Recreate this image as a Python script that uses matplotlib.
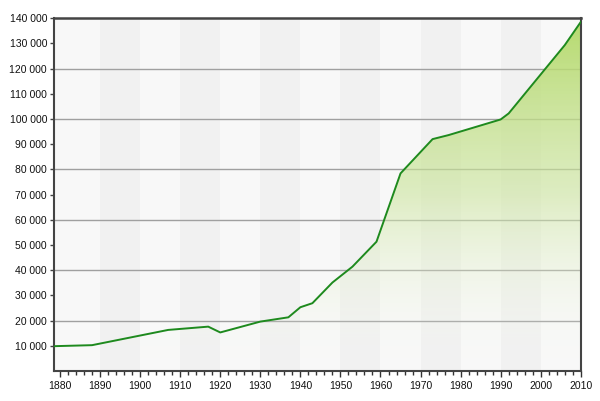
import numpy as np
import matplotlib
matplotlib.use("Agg")
import matplotlib.pyplot as plt
from matplotlib.ticker import FuncFormatter, MultipleLocator
from matplotlib.colors import LinearSegmentedColormap

years = [1878.5, 1888, 1907, 1917, 1920, 1930, 1937, 1940, 1943, 1948, 1953,
         1959, 1965, 1973, 1977, 1990, 1992, 2006, 2010]
population = [9850, 10250, 16300, 17600, 15300, 19600, 21300, 25300, 26900,
              35100, 41400, 51300, 78400, 92000, 93600, 99800, 102200,
              129300, 138500]
x_ticks = list(range(1880, 2011, 10))
y_ticks = list(range(10000, 140001, 10000))
grid_levels = list(range(20000, 120001, 20000))

plt.rcParams['font.family'] = ['Liberation Sans', 'DejaVu Sans']

fig = plt.figure(figsize=(6, 4.01), dpi=100)
ax = fig.add_axes([0.09, 0.0748, 0.878, 0.880])
xmin, xmax = 1878.5, 2010
ax.set_xlim(xmin, xmax)
ax.set_ylim(0, 140000)

# background decade bands
ax.set_facecolor('#f8f8f8')
for d in range(1890, 2010, 20):
    ax.axvspan(d, d + 10, color='#f1f1f1', lw=0, zorder=0)

for g in grid_levels:
    ax.axhline(g, color='#a0a0a0', lw=1.0, zorder=1)

# gradient fill under the curve
cmap = LinearSegmentedColormap.from_list(
    'g', [(1, 1, 1, 0.0), (0.80, 0.90, 0.62, 0.6), (0.70, 0.85, 0.40, 0.95)])
grad = np.linspace(0, 1, 256).reshape(-1, 1)
poly = ax.fill_between(years, population, 0, color='none', lw=0, zorder=2)
im = ax.imshow(grad, extent=[xmin, xmax, 0, 140000], origin='lower',
               aspect='auto', cmap=cmap, zorder=2, interpolation='bicubic')
path = poly.get_paths()[0]
im.set_clip_path(path, transform=ax.transData)

ax.plot(years, population, color='#1e8a1e', lw=1.4, zorder=3)

ax.set_xticks(x_ticks)
ax.xaxis.set_minor_locator(MultipleLocator(2))
ax.set_yticks(y_ticks)
ax.yaxis.set_major_formatter(FuncFormatter(lambda v, p: f"{int(v):,}".replace(',', ' ')))
ax.tick_params(axis='both', labelsize=7.5, colors='#111111', direction='out')
ax.tick_params(axis='y', length=3, width=1, color='#444444', pad=2)
ax.tick_params(axis='x', which='major', length=4, width=1, color='#333333', pad=3)
ax.tick_params(axis='x', which='minor', length=3, width=1, color='#333333')

for s in ax.spines.values():
    s.set_color('#444444')
    s.set_linewidth(1.5)
ax.spines['top'].set_linewidth(1.8)

fig.savefig('out.png', dpi=100, facecolor='white')
